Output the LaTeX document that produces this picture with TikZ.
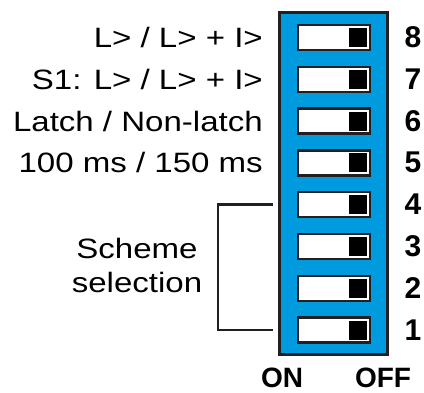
\documentclass[tikz,border=0pt]{standalone}
\usepackage{fontspec}
\setmainfont{Liberation Sans}
\newfontfamily\lblfont[FakeStretch=1.18]{Liberation Sans}
\usepackage{tikz}
\definecolor{dipblue}{RGB}{0,155,222}
\definecolor{dipedge}{RGB}{35,31,32}

\begin{document}
\begin{tikzpicture}[x=1pt, y=-1pt,
    panel/.style={draw=dipedge, line width=3pt, fill=dipblue, inner sep=0pt,
        minimum width=108pt, minimum height=342pt},
    switchbox/.style={draw=dipedge, line width=2.4pt, fill=white, inner sep=0pt,
        minimum width=72pt, minimum height=25pt},
    knob/.style={fill=black, inner sep=0pt, minimum width=18pt, minimum height=19pt},
    num/.style={font=\fontsize{30}{30}\selectfont\bfseries, inner sep=0pt},
    lbl/.style={font=\lblfont\fontsize{28}{34}\selectfont, inner sep=0pt},
    bracket/.style={line width=2.6pt, dipedge}]
\useasboundingbox (0,0) rectangle (424,392);
\node[panel] at (333,183.5) (panel) {};
\foreach \i in {1,...,8} {
    \pgfmathsetmacro{\yy}{330-(\i-1)*41.8}
    \node[switchbox] at (334,\yy) (s\i) {};
    \node[knob] at (358,\yy) (k\i) {};
    \node[num] at (413,\yy) (n\i) {\i};
}
\node[lbl, anchor=base east] at (263,47.6) (l8) {L> / L> + I>};
\node[lbl, anchor=base east] at (263,89.4) (l7) {S1: L> / L> + I>};
\node[lbl, anchor=base east] at (263,131) (l6) {Latch / Non-latch};
\node[lbl, anchor=base east] at (263,172.5) (l5) {100 ms / 150 ms};
\node[lbl, anchor=base] at (137,258) (scheme) {Scheme};
\node[lbl, anchor=base] at (137,292) (selection) {selection};
\coordinate (b4) at (273,204.6);
\coordinate (b1) at (273,330);
\draw[bracket] (b4) -- ++(-55,0) |- (b1);
\node[num, font=\fontsize{28}{28}\selectfont\bfseries, anchor=base] at (282,387) (on) {ON};
\node[num, font=\fontsize{28}{28}\selectfont\bfseries, anchor=base] at (383,387) (off) {OFF};
\end{tikzpicture}
\end{document}
